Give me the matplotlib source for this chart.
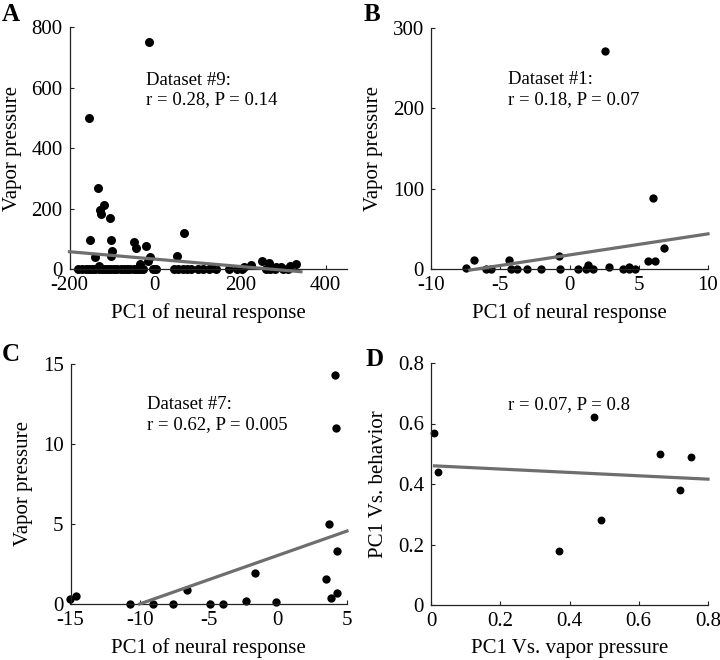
import matplotlib
matplotlib.use("Agg")
import matplotlib.pyplot as plt

plt.rcParams['font.family'] = ['Liberation Serif', 'DejaVu Serif']

# ---- Panel A data ----
a_x = [-14, -155, -134, -120, -128, -126, -104, -153, -102, -100, -102, -141, -132,
       -48, -44, -20, -11, -17, -34, 69, 52, 252, 267, 226, 208, 330, 316, 295, 283, 138,
       -179, -170, -162, -155, -148, -140, -132, -125, -118, -110, -102, -95, -88, -80,
       -72, -65, -58, -50, -42, -35, -28, -5, 2, 45, 55, 65, 75, 85, 100, 112, 126, 142,
       173, 193, 205, 260, 270, 282, 300, 312]
a_y = [750, 500, 270, 212, 196, 181, 170, 97, 97, 62, 45, 40, 12,
       89, 70, 77, 40, 28, 18, 121, 45, 28, 22, 14, 8, 17, 11, 8, 8, 5,
       0, 0, 0, 0, 0, 0, 0, 0, 0, 0, 0, 0, 0, 0,
       0, 0, 0, 0, 0, 0, 0, 0, 0, 0, 0, 0, 0, 0, 0, 0, 0, 0,
       0, 0, 0, 0, 0, 0, 0, 0]
a_fit_x = [-200, 342]
a_fit_y = [58, -8]

# ---- Panel B data ----
b_x = [-7.5, -6.9, -6.0, -5.7, -4.4, -4.2, -3.8, -3.05, -2.06, -0.74, -0.69, 0.63,
       1.19, 1.31, 1.72, 2.56, 2.83, 3.89, 4.28, 4.32, 4.73, 5.67, 6.05, 6.17, 6.82]
b_y = [2, 12, 0, 0, 12, 0, 0, 0, 0, 16, 0, 0,
       0, 5, 0, 271, 3, 0, 3, 0, 0, 10, 88, 10, 26]
b_fit_x = [-7.2, 10]
b_fit_y = [-1, 44]

# ---- Panel C data ----
c_x = [-15.0, -14.6, -10.67, -9.0, -7.6, -6.6, -4.9, -4.0, -2.34, -1.67, -0.17,
       3.48, 3.72, 3.84, 4.15, 4.2, 4.25, 4.28]
c_y = [0.31, 0.48, 0, 0, 0, 0.85, 0, 0, 0.17, 1.94, 0.13,
       1.56, 5.0, 0.37, 14.3, 11.0, 3.3, 0.69]
c_fit_x = [-10.0, 5.0]
c_fit_y = [0.0, 4.56]

# ---- Panel D data ----
d_x = [0.01, 0.02, 0.37, 0.47, 0.49, 0.66, 0.72, 0.75]
d_y = [0.57, 0.44, 0.18, 0.62, 0.28, 0.50, 0.38, 0.49]
d_fit_x = [0.01, 0.8]
d_fit_y = [0.46, 0.416]

# ---- ticks / labels ----
a_xticks = [-200, 0, 200, 400]; a_xlabels = ['-200', '0', '200', '400']
a_yticks = [0, 200, 400, 600, 800]; a_ylabels = ['0', '200', '400', '600', '800']
b_xticks = [-10, -5, 0, 5, 10]; b_xlabels = ['-10', '-5', '0', '5', '10']
b_yticks = [0, 100, 200, 300]; b_ylabels = ['0', '100', '200', '300']
c_xticks = [-15, -10, -5, 0, 5]; c_xlabels = ['-15', '-10', '-5', '0', '5']
c_yticks = [0, 5, 10, 15]; c_ylabels = ['0', '5', '10', '15']
d_xticks = [0, 0.2, 0.4, 0.6, 0.8]; d_xlabels = ['0', '0.2', '0.4', '0.6', '0.8']
d_yticks = [0, 0.2, 0.4, 0.6, 0.8]; d_ylabels = ['0', '0.2', '0.4', '0.6', '0.8']

fig = plt.figure(figsize=(7.2, 6.6), dpi=100)

W, H = 720.0, 660.0
def add_ax(l, t, r, b):
    return fig.add_axes([l / W, 1 - b / H, (r - l) / W, (b - t) / H])

axA = add_ax(69.5, 27, 347, 269.3)
axB = add_ax(431, 27.7, 708, 269.3)
axC = add_ax(70.5, 364, 347, 604)
axD = add_ax(431, 363, 708, 605)

line_col = '#6e6e6e'
FS = 15
AFS = 13.5

def style(ax, xlim, ylim, xt, xl, yt, yl, xlabel, ylabel):
    ax.set_xlim(*xlim)
    ax.set_ylim(*ylim)
    for s in ['top', 'right']:
        ax.spines[s].set_visible(False)
    for s in ['left', 'bottom']:
        ax.spines[s].set_linewidth(0.9)
        ax.spines[s].set_color('#222222')
    ax.set_xticks(xt)
    ax.set_xticklabels(xl)
    ax.set_yticks(yt)
    ax.set_yticklabels(yl)
    ax.tick_params(direction='in', length=3, width=0.8, labelsize=FS, colors='#222222',
                   labelcolor='black')
    ax.tick_params(axis='x', pad=5)
    ax.tick_params(axis='y', pad=5)
    ax.set_xlabel(xlabel, fontsize=FS, labelpad=6)
    ax.set_ylabel(ylabel, fontsize=FS, labelpad=7)

# A
axA.plot(a_fit_x, a_fit_y, color=line_col, lw=2.3, zorder=3, clip_on=False)
axA.scatter(a_x, a_y, s=42, color='black', zorder=2, clip_on=False, linewidths=0)
style(axA, (-198, 450), (0, 800), a_xticks, a_xlabels, a_yticks, a_ylabels,
      'PC1 of neural response', 'Vapor pressure')
axA.text(0.276, 0.781, 'Dataset #9:', transform=axA.transAxes, fontsize=AFS, va='center')
axA.text(0.276, 0.70, 'r = 0.28, P = 0.14', transform=axA.transAxes, fontsize=AFS, va='center')

# B
axB.plot(b_fit_x, b_fit_y, color=line_col, lw=2.3, zorder=3, clip_on=False)
axB.scatter(b_x, b_y, s=36, color='black', zorder=2, clip_on=False, linewidths=0)
style(axB, (-10, 10), (0, 300), b_xticks, b_xlabels, b_yticks, b_ylabels,
      'PC1 of neural response', 'Vapor pressure')
axB.text(0.277, 0.785, 'Dataset #1:', transform=axB.transAxes, fontsize=AFS, va='center')
axB.text(0.277, 0.703, 'r = 0.18, P = 0.07', transform=axB.transAxes, fontsize=AFS, va='center')

# C
axC.plot(c_fit_x, c_fit_y, color=line_col, lw=2.3, zorder=3, clip_on=False)
axC.scatter(c_x, c_y, s=36, color='black', zorder=2, clip_on=False, linewidths=0)
style(axC, (-15, 5), (0, 15), c_xticks, c_xlabels, c_yticks, c_ylabels,
      'PC1 of neural response', 'Vapor pressure')
axC.text(0.276, 0.833, 'Dataset #7:', transform=axC.transAxes, fontsize=AFS, va='center')
axC.text(0.276, 0.746, 'r = 0.62, P = 0.005', transform=axC.transAxes, fontsize=AFS, va='center')

# D
axD.plot(d_fit_x, d_fit_y, color=line_col, lw=2.3, zorder=3, clip_on=False)
axD.scatter(d_x, d_y, s=32, color='black', zorder=2, clip_on=False, linewidths=0)
style(axD, (0, 0.8), (0, 0.8), d_xticks, d_xlabels, d_yticks, d_ylabels,
      'PC1 Vs. vapor pressure', 'PC1 Vs. behavior')
axD.text(0.277, 0.83, 'r = 0.07, P = 0.8', transform=axD.transAxes, fontsize=AFS, va='center')

# panel letters
for lab, x, y in [('A', 2, 3), ('B', 364, 3), ('C', 2, 343), ('D', 366, 348)]:
    fig.text(x / W, 1 - y / H, lab, fontsize=18, fontweight='bold', ha='left', va='top')

fig.savefig('out.png', dpi=100)
